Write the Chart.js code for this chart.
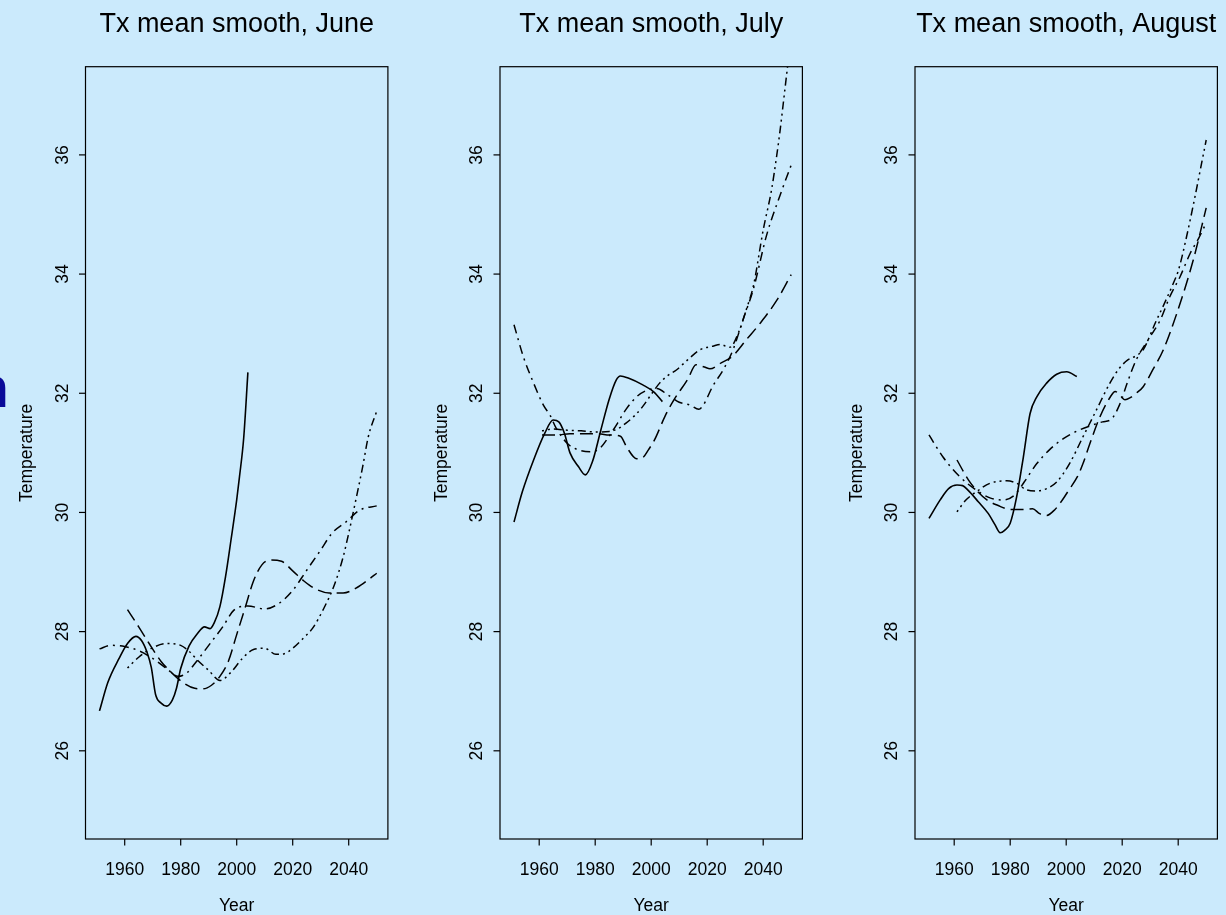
<!DOCTYPE html>
<html>
<head>
<meta charset="utf-8">
<script src="https://cdn.jsdelivr.net/npm/chart.js@4.4.0/dist/chart.umd.min.js"></script>
<style>
  html, body { margin: 0; padding: 0; background: #cbeafc; }
  #wrap { position: relative; width: 1226px; height: 915px; overflow: hidden; background: #cbeafc; }
  canvas { position: absolute; top: 0; }
</style>
</head>
<body>
<div id="wrap">
  <canvas id="pJun" width="414" height="915" style="left:0px"></canvas>
  <canvas id="pJul" width="415" height="915" style="left:414px"></canvas>
  <canvas id="pAug" width="397" height="915" style="left:829px"></canvas>
</div>
<script>
// tick labels
const yearTicks = [1960, 1980, 2000, 2020, 2040];
const tempTicks = [26, 28, 30, 32, 34, 36];

// June
const junObsYr = [1951, 1954, 1958, 1961, 1964, 1966, 1968, 1969.5, 1971, 1973, 1975, 1977, 1978.5, 1980, 1983, 1986, 1988.5, 1990.5, 1992, 1994, 1996, 1998, 2000, 2001, 2002.5, 2004];
const junObs   = [26.67, 27.15, 27.55, 27.8, 27.92, 27.85, 27.65, 27.4, 26.95, 26.8, 26.75, 26.85, 27.05, 27.38, 27.76, 27.97, 28.08, 28.05, 28.15, 28.42, 28.92, 29.55, 30.21, 30.6, 31.25, 32.35];
const junAYr = [1961, 1965, 1969, 1973, 1977, 1981, 1985, 1988, 1991, 1994, 1997, 2000, 2003, 2006, 2009, 2012, 2016, 2020, 2024, 2028, 2033, 2038, 2043, 2047, 2050];
const junA   = [28.37, 28.08, 27.78, 27.5, 27.3, 27.14, 27.05, 27.04, 27.1, 27.25, 27.5, 27.95, 28.4, 28.85, 29.12, 29.2, 29.18, 29.02, 28.85, 28.72, 28.65, 28.65, 28.74, 28.87, 28.98];
const junBYr = [1951, 1955, 1960, 1965, 1970, 1975, 1979, 1982, 1985, 1990, 1995, 1999, 2004, 2010, 2015, 2020, 2025, 2030, 2034, 2039, 2044, 2050];
const junB   = [27.71, 27.77, 27.75, 27.68, 27.55, 27.38, 27.25, 27.3, 27.46, 27.77, 28.08, 28.36, 28.43, 28.38, 28.47, 28.69, 29.03, 29.37, 29.65, 29.84, 30.04, 30.11];
const junCYr = [1961, 1965, 1970, 1975, 1980, 1983, 1986, 1990, 1994, 1998, 2002, 2006, 2010, 2014, 2017, 2020, 2024, 2027, 2031, 2035, 2038, 2040, 2042.5, 2045, 2047, 2050];
const junC   = [27.39, 27.57, 27.73, 27.8, 27.77, 27.67, 27.52, 27.35, 27.18, 27.32, 27.55, 27.7, 27.72, 27.62, 27.63, 27.72, 27.9, 28.05, 28.38, 28.8, 29.25, 29.65, 30.2, 30.77, 31.27, 31.7];

// July
const julObsYr = [1951, 1954, 1958, 1962, 1965, 1967, 1969, 1971, 1974, 1976.5, 1979, 1982, 1985, 1987.5, 1989, 1992, 1997, 2001, 2004];
const julObs   = [29.84, 30.35, 30.88, 31.33, 31.55, 31.52, 31.33, 31.0, 30.77, 30.63, 30.85, 31.38, 31.9, 32.22, 32.29, 32.25, 32.14, 32.02, 31.86];
const julAYr = [1961, 1966, 1971, 1976, 1981, 1985, 1989, 1991.2, 1994.8, 1997, 1999, 2001, 2005, 2008, 2013, 2016, 2019, 2021, 2025, 2029, 2034, 2039, 2045, 2050];
const julA   = [31.3, 31.3, 31.32, 31.32, 31.32, 31.3, 31.28, 31.1, 30.9, 30.92, 31.05, 31.2, 31.62, 31.88, 32.23, 32.48, 32.44, 32.41, 32.51, 32.62, 32.9, 33.18, 33.57, 33.99];
const julBYr = [1951, 1954.3, 1958, 1961.5, 1964, 1966, 1970, 1974, 1978.5, 1981.5, 1985, 1988, 1991, 1995, 1998.5, 2002, 2006, 2010, 2014, 2017, 2018.6, 2022, 2025.8, 2029.3, 2032.9, 2036.5, 2041.2, 2046, 2050];
const julB   = [33.15, 32.62, 32.17, 31.8, 31.62, 31.42, 31.16, 31.05, 31.02, 31.07, 31.28, 31.5, 31.73, 31.95, 32.05, 32.08, 31.97, 31.85, 31.8, 31.73, 31.8, 32.12, 32.4, 32.74, 33.25, 33.75, 34.65, 35.32, 35.83];
const julCYr = [1961, 1965, 1970, 1975, 1980, 1985, 1988, 1991, 1994, 1997, 2000, 2003, 2006, 2009, 2013, 2017.4, 2022, 2024.6, 2028, 2031.7, 2034, 2036.5, 2040, 2043, 2044.8, 2046, 2048, 2050];
const julC   = [31.37, 31.4, 31.38, 31.37, 31.35, 31.36, 31.4, 31.5, 31.62, 31.78, 31.98, 32.17, 32.3, 32.39, 32.56, 32.73, 32.79, 32.82, 32.77, 33.08, 33.41, 33.8, 34.74, 35.42, 35.98, 36.4, 37.2, 38.0];

// August
const augObsYr = [1951, 1955, 1958, 1961, 1963, 1965, 1968.6, 1972.2, 1974.5, 1976.4, 1978, 1980, 1982.3, 1984.7, 1987.1, 1989.5, 1993, 1996.6, 2000.2, 2003.8];
const augObs   = [29.9, 30.21, 30.4, 30.46, 30.45, 30.37, 30.18, 29.98, 29.8, 29.66, 29.7, 29.82, 30.26, 30.93, 31.66, 31.94, 32.17, 32.32, 32.36, 32.28];
const augAYr = [1961, 1965, 1968, 1972, 1975.5, 1980, 1985, 1988, 1990.5, 1993, 1996, 1998.5, 2001, 2004, 2006, 2008.5, 2012, 2015.5, 2017.5, 2019.5, 2021, 2023, 2025, 2027.5, 2031, 2034.7, 2039.5, 2045.4, 2050];
const augA   = [30.88, 30.55, 30.37, 30.2, 30.12, 30.05, 30.05, 30.06, 29.98, 29.95, 30.05, 30.2, 30.38, 30.6, 30.82, 31.16, 31.6, 31.92, 32.03, 31.95, 31.89, 31.93, 32.0, 32.11, 32.4, 32.73, 33.34, 34.24, 35.11];
const augBYr = [1951, 1956, 1962, 1968, 1973, 1977.5, 1981.5, 1985, 1989.5, 1994, 1999, 2005, 2009, 2013, 2016, 2019, 2022, 2025, 2030, 2033.6, 2037, 2040.7, 2044.3, 2047.3, 2050];
const augB   = [31.3, 30.93, 30.6, 30.37, 30.24, 30.21, 30.29, 30.51, 30.82, 31.05, 31.24, 31.39, 31.46, 31.52, 31.56, 31.8, 32.2, 32.56, 32.95, 33.23, 33.62, 33.96, 34.35, 34.6, 34.86];
const augCYr = [1961, 1964, 1968, 1972.8, 1978.8, 1982.3, 1985.8, 1989.5, 1993, 1996.6, 2001.2, 2006, 2010.8, 2015.6, 2019, 2022, 2025, 2027.5, 2032, 2035, 2038.3, 2040, 2043, 2046, 2048.4, 2050];
const augC   = [30.01, 30.2, 30.35, 30.49, 30.53, 30.49, 30.38, 30.36, 30.4, 30.51, 30.82, 31.27, 31.72, 32.17, 32.42, 32.56, 32.63, 32.73, 33.2, 33.5, 33.85, 34.05, 34.63, 35.3, 35.87, 36.25];

const FONT = '"Liberation Sans", Arial, Helvetica, sans-serif';
const dashA = [13, 6];
const dashB = [9, 5, 2, 5];
const dashC = [2, 4, 2, 4, 8, 4];

function pts(xs, ys) { return xs.map(function(v, i) { return { x: v, y: ys[i] }; }); }

function ds(xs, ys, dash, w) {
    return {
        data: pts(xs, ys), borderColor: "#000", borderWidth: w || 1.5, borderDash: dash || [],
        pointRadius: 0, fill: false, cubicInterpolationMode: "monotone", clip: 0
    };
}

// R-style box, ticks and labels
const rFrame = {
    id: "rFrame",
    afterDraw: function(chart) {
        const ctx = chart.ctx, a = chart.chartArea, x = chart.scales.x, y = chart.scales.y;
        const o = chart.options.plugins.rFrame;
        ctx.save();
        ctx.strokeStyle = "#000"; ctx.fillStyle = "#000"; ctx.lineWidth = 1.2;
        ctx.strokeRect(a.left, a.top, a.right - a.left, a.bottom - a.top);
        ctx.font = "17.5px " + FONT;
        ctx.textAlign = "center"; ctx.textBaseline = "alphabetic";
        yearTicks.forEach(function(v) {
            const px = x.getPixelForValue(v);
            ctx.beginPath(); ctx.moveTo(px, a.bottom); ctx.lineTo(px, a.bottom + 6.5); ctx.stroke();
            ctx.fillText(String(v), px, 875);
        });
        tempTicks.forEach(function(v) {
            const py = y.getPixelForValue(v);
            ctx.beginPath(); ctx.moveTo(a.left - 6.5, py); ctx.lineTo(a.left, py); ctx.stroke();
            ctx.save(); ctx.translate(a.left - 17.8, py); ctx.rotate(-Math.PI / 2);
            ctx.fillText(String(v), 0, 0); ctx.restore();
        });
        const cx = (a.left + a.right) / 2;
        ctx.fillText("Year", cx, 910.5);
        ctx.save(); ctx.translate(a.left - 53.5, (a.top + a.bottom) / 2); ctx.rotate(-Math.PI / 2);
        ctx.fillText("Temperature", 0, 0); ctx.restore();
        ctx.font = "27px " + FONT;
        ctx.fillText(o.title, cx, 31.5);
        if (o.mark) {
            ctx.font = "bold 57px " + FONT; ctx.fillStyle = "#0a0a99"; ctx.textAlign = "left";
            ctx.fillText("n", -26, 407);
        }
        ctx.restore();
    }
};

function makePanel(id, title, padLeft, series, mark) {
    const cv = document.getElementById(id);
    new Chart(cv, {
        type: "line",
        data: { datasets: series },
        options: {
            responsive: false, animation: false, events: [],
            layout: { padding: { left: padLeft, top: 66.7, right: cv.width - padLeft - 302.4, bottom: 76 } },
            scales: {
                x: { type: "linear", min: 1946, max: 2054, display: false },
                y: { type: "linear", min: 24.52, max: 37.48, display: false }
            },
            plugins: { legend: { display: false }, tooltip: { enabled: false }, rFrame: { title: title, mark: mark } }
        },
        plugins: [rFrame]
    });
}

makePanel("pJun", "Tx mean smooth, June", 85.5, [
    ds(junObsYr, junObs, [], 1.6), ds(junAYr, junA, dashA), ds(junBYr, junB, dashB), ds(junCYr, junC, dashC)
], true);
makePanel("pJul", "Tx mean smooth, July", 86, [
    ds(julObsYr, julObs, [], 1.6), ds(julAYr, julA, dashA), ds(julBYr, julB, dashB), ds(julCYr, julC, dashC)
], false);
makePanel("pAug", "Tx mean smooth, August", 86, [
    ds(augObsYr, augObs, [], 1.6), ds(augAYr, augA, dashA), ds(augBYr, augB, dashB), ds(augCYr, augC, dashC)
], false);
</script>
</body>
</html>
